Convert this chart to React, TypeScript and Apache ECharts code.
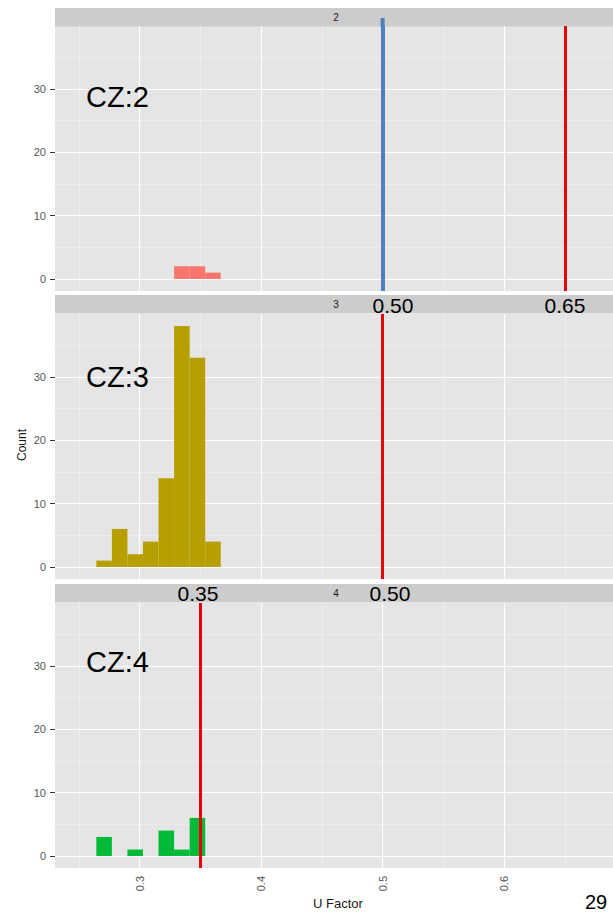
import React, { useEffect, useRef } from 'react';
import * as echarts from 'echarts';

// ---- data ----
const binEdges = [0.2644, 0.2772, 0.29, 0.3028, 0.3156, 0.3284, 0.3412, 0.354, 0.3668];
const panelNames = ['2', '3', '4'];
const czLabels = ['CZ:2', 'CZ:3', 'CZ:4'];
const countsCZ2 = [0, 0, 0, 0, 0, 2, 2, 1];
const countsCZ3 = [1, 6, 2, 4, 14, 38, 33, 4];
const countsCZ4 = [3, 0, 1, 0, 4, 1, 6, 0];
const refBlueCZ2 = [0.5];
const refRedCZ2 = [0.65];
const refRedCZ3 = [0.5];
const refRedCZ4 = [0.35];
const refLabelsStrip2 = ['0.50', '0.65'];
const refLabelsStrip3 = ['0.35', '0.50'];
const yTicks = [0, 10, 20, 30];
const yMinor = [5, 15, 25, 35];
const xTicks = [0.3, 0.4, 0.5, 0.6];
const xMinor = [0.25, 0.35, 0.45, 0.55, 0.65];
const xName = 'U Factor';
const yName = 'Count';
const pageNumber = '29';

const FONT = 'Liberation Sans, Arial, Helvetica, sans-serif';
const fills = ['#F8766D', '#B79F00', '#00BA38'];
const counts = [countsCZ2, countsCZ3, countsCZ4];
const redRefs = [refRedCZ2, refRedCZ3, refRedCZ4];

const X_MIN = 0.2304;
const X_MAX = 0.6896;
const Y_MIN = -1.9;
const Y_MAX = 39.9;

const gridTops = [26, 314, 603];
const gridH = 265;
const stripTops = [8, 295, 584];
const stripH = 18.5;
const LEFT = 55;

export default function App() {
  const ref = useRef<HTMLDivElement>(null);

  useEffect(() => {
    document.body.style.margin = '0';
    if (!ref.current) return;
    const chart = echarts.init(ref.current, undefined, { renderer: 'svg' });

    const grids = gridTops.map((t) => ({
      left: LEFT,
      right: 0,
      top: t,
      height: gridH,
      show: true,
      backgroundColor: '#E5E5E5',
      borderWidth: 0,
      containLabel: false,
    }));

    const xAxes = gridTops.map((_, i) => ({
      gridIndex: i,
      type: 'value',
      min: X_MIN,
      max: X_MAX,
      axisLine: { show: false },
      splitLine: { show: false },
      axisTick: {
        show: i === 2,
        customValues: xTicks,
        length: 5,
        lineStyle: { color: '#333333', width: 1 },
      },
      axisLabel: {
        show: i === 2,
        customValues: xTicks,
        rotate: 90,
        margin: 8,
        fontSize: 11,
        color: '#555555',
        fontFamily: FONT,
        formatter: (v: number) => v.toFixed(1),
      },
    }));

    const yAxes = gridTops.map((_, i) => ({
      gridIndex: i,
      type: 'value',
      min: Y_MIN,
      max: Y_MAX,
      axisLine: { show: false },
      splitLine: { show: false },
      axisTick: {
        show: true,
        customValues: yTicks,
        length: 5,
        lineStyle: { color: '#333333', width: 1 },
      },
      axisLabel: {
        customValues: yTicks,
        margin: 9,
        fontSize: 11,
        color: '#555555',
        fontFamily: FONT,
      },
    }));

    const series: any[] = [];
    gridTops.forEach((_, i) => {
      // grid lines
      const gl: any[] = [];
      xMinor.forEach((v) => gl.push({ xAxis: v, lineStyle: { color: '#F2F2F2', width: 0.6, type: 'solid' } }));
      yMinor.forEach((v) => gl.push({ yAxis: v, lineStyle: { color: '#F2F2F2', width: 0.6, type: 'solid' } }));
      xTicks.forEach((v) => gl.push({ xAxis: v, lineStyle: { color: '#FFFFFF', width: 1.2, type: 'solid' } }));
      yTicks.forEach((v) => gl.push({ yAxis: v, lineStyle: { color: '#FFFFFF', width: 1.2, type: 'solid' } }));
      series.push({
        type: 'line',
        xAxisIndex: i,
        yAxisIndex: i,
        data: [[0.3, 0]],
        symbol: 'none',
        lineStyle: { opacity: 0 },
        silent: true,
        z: 1,
        markLine: {
          z: 1,
          silent: true,
          symbol: ['none', 'none'],
          label: { show: false },
          animation: false,
          data: gl,
        },
      });

      // histogram
      const data = counts[i]
        .map((c, k) => [binEdges[k], binEdges[k + 1], c])
        .filter((d) => d[2] > 0);
      const refLines: any[] = redRefs[i].map((v) => ({
        xAxis: v,
        lineStyle: { color: '#E8000B', width: 3, type: 'solid' },
      }));
      if (i === 0) {
        refBlueCZ2.forEach((v) =>
          refLines.push({ xAxis: v, lineStyle: { color: '#4F81BD', width: 4, type: 'solid' } })
        );
      }
      series.push({
        type: 'custom',
        xAxisIndex: i,
        yAxisIndex: i,
        z: 2,
        clip: false,
        silent: true,
        encode: { x: [0, 1], y: 2 },
        data,
        renderItem: (params: any, api: any) => {
          const x0 = api.value(0);
          const x1 = api.value(1);
          const c = api.value(2);
          const p0 = api.coord([x0, c]);
          const p1 = api.coord([x1, 0]);
          return {
            type: 'rect',
            shape: { x: p0[0], y: p0[1], width: p1[0] - p0[0], height: p1[1] - p0[1] },
            style: { fill: fills[i] },
          };
        },
        markLine: {
          z: 5,
          silent: true,
          symbol: ['none', 'none'],
          label: { show: false },
          animation: false,
          data: refLines,
        },
      });
    });

    const graphic: any[] = [];
    stripTops.forEach((t, i) => {
      graphic.push({
        type: 'rect',
        left: LEFT,
        top: t,
        shape: { width: 613 - LEFT, height: stripH },
        style: { fill: '#CCCCCC' },
        z: 0,
      });
      graphic.push({
        type: 'text',
        x: LEFT + (613 - LEFT) / 2 + 2,
        y: t + stripH / 2,
        style: {
          text: panelNames[i],
          fill: '#1A1A1A',
          font: `10px ${FONT}`,
          align: 'center',
          verticalAlign: 'middle',
        },
        z: 1,
      });
    });
    const czY = [97, 377, 662];
    czLabels.forEach((s, i) =>
      graphic.push({
        type: 'text',
        x: 86,
        y: czY[i],
        style: { text: s, fill: '#000000', font: `29px ${FONT}`, align: 'left', verticalAlign: 'middle' },
        z: 20,
      })
    );
    const strip2X = [393, 565];
    const strip3X = [198, 390];
    refLabelsStrip2.forEach((s, k) =>
      graphic.push({
        type: 'text',
        x: strip2X[k],
        y: 305,
        style: { text: s, fill: '#000000', font: `21px ${FONT}`, align: 'center', verticalAlign: 'middle' },
        z: 20,
      })
    );
    refLabelsStrip3.forEach((s, k) =>
      graphic.push({
        type: 'text',
        x: strip3X[k],
        y: 593,
        style: { text: s, fill: '#000000', font: `21px ${FONT}`, align: 'center', verticalAlign: 'middle' },
        z: 20,
      })
    );
    graphic.push({
      type: 'text',
      x: 22,
      y: 445,
      rotation: Math.PI / 2,
      style: { text: yName, fill: '#1A1A1A', font: `12px ${FONT}`, align: 'center', verticalAlign: 'middle' },
    });
    graphic.push({
      type: 'text',
      x: 338,
      y: 903,
      style: { text: xName, fill: '#1A1A1A', font: `13px ${FONT}`, align: 'center', verticalAlign: 'middle' },
    });
    graphic.push({
      type: 'text',
      x: 596,
      y: 902,
      style: { text: pageNumber, fill: '#000000', font: `20px ${FONT}`, align: 'center', verticalAlign: 'middle' },
    });

    chart.setOption({
      animation: false,
      grid: grids,
      xAxis: xAxes,
      yAxis: yAxes,
      series,
      graphic,
    });

    // extend the blue reference line a few pixels up into the strip
    const top = chart.convertToPixel({ gridIndex: 0 }, [refBlueCZ2[0], Y_MAX]) as number[];
    if (top && isFinite(top[0])) {
      graphic.push({
        type: 'line',
        shape: { x1: top[0], y1: top[1] + 1, x2: top[0], y2: top[1] - 8 },
        style: { stroke: '#4F81BD', lineWidth: 4 },
        z: 30,
      });
      chart.setOption({ graphic });
    }

    return () => chart.dispose();
  }, []);

  return <div ref={ref} style={{ width: 613, height: 915 }} />;
}
